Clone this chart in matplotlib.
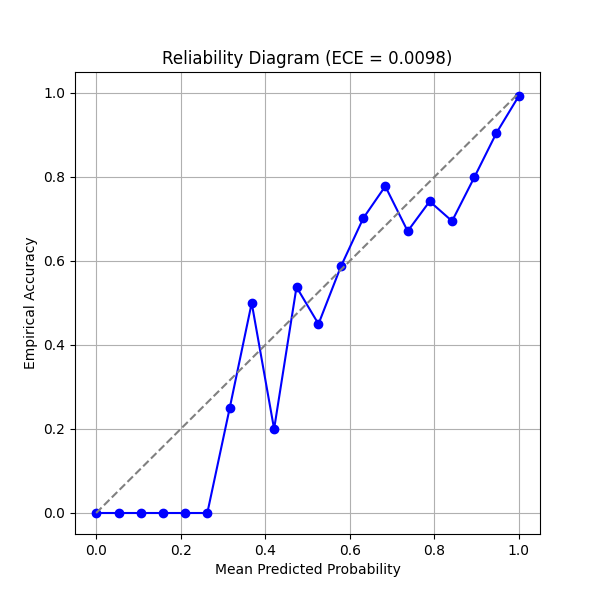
import matplotlib
matplotlib.use('Agg')
import matplotlib.pyplot as plt

# bin means
mean_pred = [0.0, 0.053, 0.105, 0.158, 0.211, 0.263, 0.316, 0.368, 0.421, 0.474,
             0.526, 0.579, 0.632, 0.684, 0.737, 0.789, 0.842, 0.895, 0.947, 1.0]
accuracy = [0.0, 0.0, 0.0, 0.0, 0.0, 0.0, 0.25, 0.5, 0.2, 0.538,
            0.45, 0.587, 0.702, 0.778, 0.671, 0.742, 0.695, 0.80, 0.905, 0.993]
ece = 0.0098

plt.figure(figsize=(6, 6))
plt.plot(mean_pred, accuracy, marker='o', color='blue')
plt.plot([0, 1], [0, 1], linestyle='--', color='gray')
plt.title(f'Reliability Diagram (ECE = {ece:.4f})')
plt.xlabel('Mean Predicted Probability')
plt.ylabel('Empirical Accuracy')
plt.grid(True)
plt.savefig('out.png', dpi=100)
